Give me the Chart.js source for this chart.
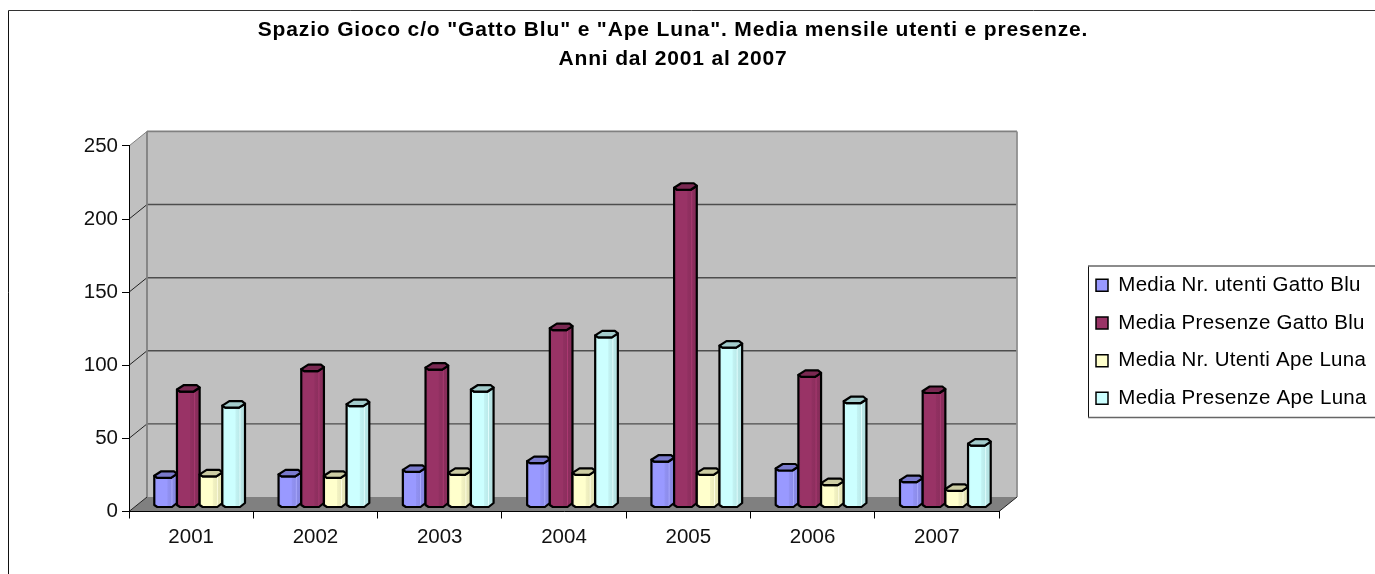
<!DOCTYPE html>
<html>
<head>
<meta charset="utf-8">
<title>Spazio Gioco</title>
<script src="https://cdn.jsdelivr.net/npm/chart.js@4/dist/chart.umd.min.js"></script>
<style>
	html, body { margin: 0; padding: 0; background: #fff; }
	canvas { display: block; }
</style>
</head>
<body>
<canvas id="chart" width="1375" height="574"></canvas>
<script>
var anni = ['2001', '2002', '2003', '2004', '2005', '2006', '2007'];
var utentiGatto = [21, 22, 25, 31, 32, 26, 18];
var presenzeGatto = [80, 94, 95, 122, 218, 90, 79];
var utentiApe = [22, 21, 23, 23, 23, 16, 12];
var presenzeApe = [69, 70, 80, 117, 110, 72, 43];
var nomiSerie = ['Media Nr. utenti Gatto Blu', 'Media Presenze Gatto Blu', 'Media Nr. Utenti Ape Luna', 'Media Presenze Ape Luna'];
var coloriSerie = ['#9999FF', '#993366', '#FFFFCC', '#CCFFFF'];
var titolo = ['Spazio Gioco c/o "Gatto Blu" e "Ape Luna". Media mensile utenti e presenze.', 'Anni dal 2001 al 2007'];

// Depth of the 3D box and of the bars inside it
var DEPTH_X = 18, DEPTH_Y = -14.5;
var BAR_X = 8.5, BAR_Y = -6;
var FONT = '"Liberation Sans", Arial, sans-serif';

function shade(hex, f) {
	var n = parseInt(hex.slice(1), 16);
	var r = Math.min(255, Math.round((n >> 16) * f));
	var g = Math.min(255, Math.round(((n >> 8) & 255) * f));
	var b = Math.min(255, Math.round((n & 255) * f));
	return 'rgb(' + r + ',' + g + ',' + b + ')';
}

function poly(ctx, pts) {
	ctx.beginPath();
	ctx.moveTo(pts[0][0], pts[0][1]);
	for (var i = 1; i < pts.length; i++) ctx.lineTo(pts[i][0], pts[i][1]);
	ctx.closePath();
}

function line(ctx, x1, y1, x2, y2, color, width) {
	ctx.strokeStyle = color;
	ctx.lineWidth = width;
	ctx.beginPath();
	ctx.moveTo(x1, y1);
	ctx.lineTo(x2, y2);
	ctx.stroke();
}

// Chart.js has no letter spacing option, the reference text is a bit stretched
function withSpacing(box, spacing) {
	var draw = box.draw;
	box.draw = function(area) {
		this.ctx.save();
		this.ctx.letterSpacing = spacing;
		draw.call(this, area);
		this.ctx.restore();
	};
	box.spaced = true;
}

// Walls, floor and gridlines, all hung on the library's scales
function drawBox(chart) {
	var ctx = chart.ctx, a = chart.chartArea, yScale = chart.scales.y;
	var l = a.left, r = a.right, t = a.top, b = a.bottom;
	ctx.save();
	ctx.fillStyle = '#C0C0C0';
	poly(ctx, [[l, t], [l + DEPTH_X, t + DEPTH_Y], [r + DEPTH_X, t + DEPTH_Y], [r + DEPTH_X, b + DEPTH_Y], [l + DEPTH_X, b + DEPTH_Y], [l, b]]);
	ctx.fill();
	ctx.fillStyle = '#808080';
	poly(ctx, [[l, b], [l + DEPTH_X, b + DEPTH_Y], [r + DEPTH_X, b + DEPTH_Y], [r, b]]);
	ctx.fill();
	yScale.ticks.forEach(function(tick) {
		var y = yScale.getPixelForValue(tick.value);
		if (tick.value > 0 && tick.value < 250) {
			line(ctx, l + DEPTH_X, y + DEPTH_Y, r + DEPTH_X, y + DEPTH_Y, '#4d4d4d', 1.4);
		}
		line(ctx, l, y, l + DEPTH_X, y + DEPTH_Y, tick.value == 250 ? '#808080' : '#222', 1);
	});
	line(ctx, l + DEPTH_X, t + DEPTH_Y, l + DEPTH_X, b + DEPTH_Y, '#808080', 1.8);
	line(ctx, l + DEPTH_X, t + DEPTH_Y, r + DEPTH_X, t + DEPTH_Y, '#808080', 1.8);
	line(ctx, r + DEPTH_X, t + DEPTH_Y, r + DEPTH_X, b + DEPTH_Y, '#909090', 1.8);
	line(ctx, r, b, r + DEPTH_X, b + DEPTH_Y, '#222', 1);
	ctx.restore();
}

function drawCylinder(ctx, bar, color) {
	var x = bar.x + BAR_X, yT = bar.y + BAR_Y, yB = bar.base + BAR_Y;
	var L = x - bar.width / 2, R = x + bar.width / 2;
	var body = [[L, yT + 1], [L + 3, yT + 3], [R - 6, yT + 3], [R, yT - 1], [R, yB - 2], [R - 5, yB + 2], [L + 3, yB + 2], [L, yB]];
	var grad = ctx.createLinearGradient(L, 0, R, 0);
	grad.addColorStop(0, shade(color, 0.96));
	grad.addColorStop(0.12, color);
	grad.addColorStop(0.56, color);
	grad.addColorStop(0.6, shade(color, 0.95));
	grad.addColorStop(0.74, shade(color, 0.92));
	grad.addColorStop(0.78, shade(color, 1.12));
	grad.addColorStop(0.82, shade(color, 0.9));
	grad.addColorStop(1, shade(color, 0.88));
	ctx.lineJoin = 'round';
	ctx.lineWidth = 2.2;
	ctx.strokeStyle = '#000';
	poly(ctx, body);
	ctx.fillStyle = grad;
	ctx.fill();
	ctx.stroke();
	poly(ctx, [[L, yT + 1], [L + 3, yT + 3], [R - 6, yT + 3], [R, yT - 1], [R - 3, yT - 3.5], [L + 7, yT - 3.5]]);
	ctx.fillStyle = shade(color, 0.8);
	ctx.fill();
	ctx.stroke();
}

var plugin3d = {
	id: 'box3d',
	beforeDraw: function(chart) {
		var ctx = chart.ctx;
		ctx.save();
		ctx.fillStyle = '#fff';
		ctx.fillRect(0, 0, chart.width, chart.height);
		line(ctx, 8.5, chart.height, 8.5, 10.5, '#111', 1);
		line(ctx, 8.5, 10.5, chart.width, 10.5, '#333', 1);
		ctx.restore();
		drawBox(chart);
	},
	// the bars get drawn by us, from the elements the bar controller has laid out
	beforeDatasetsDraw: function(chart) {
		var ctx = chart.ctx;
		ctx.save();
		for (var c = 0; c < anni.length; c++) {
			for (var i = 0; i < chart.data.datasets.length; i++) {
				drawCylinder(ctx, chart.getDatasetMeta(i).data[c], chart.data.datasets[i].backgroundColor);
			}
		}
		ctx.restore();
		return false;
	},
	afterLayout: function(chart) {
		// title is centred on x=673 in the reference
		chart.titleBlock.left = 0;
		chart.titleBlock.right = 1346;
		if (!chart.titleBlock.spaced) withSpacing(chart.titleBlock, '0.85px');
		// legend sits in the free space on the right
		var lg = chart.legend;
		lg.left = 1096 - lg.options.labels.padding;
		lg.right = 1375;
		lg.top = 285 - 10 - lg.options.labels.padding;
		lg.bottom = 440;
		if (!lg.spaced) withSpacing(lg, '0.3px');
	},
	afterDraw: function(chart) {
		var ctx = chart.ctx;
		ctx.save();
		line(ctx, 1088.5, 418, 1088.5, 266, '#111', 1);
		line(ctx, 1088, 266, 1375, 266, '#666', 1.6);
		line(ctx, 1088, 417.5, 1375, 417.5, '#666', 1.6);
		ctx.restore();
	}
};

new Chart(document.getElementById('chart'), {
	type: 'bar',
	plugins: [plugin3d],
	data: {
		labels: anni,
		datasets: [
			{ label: nomiSerie[0], data: utentiGatto, backgroundColor: coloriSerie[0], borderColor: '#000', borderWidth: 1.5 },
			{ label: nomiSerie[1], data: presenzeGatto, backgroundColor: coloriSerie[1], borderColor: '#000', borderWidth: 1.5 },
			{ label: nomiSerie[2], data: utentiApe, backgroundColor: coloriSerie[2], borderColor: '#000', borderWidth: 1.5 },
			{ label: nomiSerie[3], data: presenzeApe, backgroundColor: coloriSerie[3], borderColor: '#000', borderWidth: 1.5 }
		]
	},
	options: {
		responsive: false,
		animation: false,
		layout: { padding: { left: 0, right: 376, top: 0, bottom: 0 } },
		datasets: { bar: { categoryPercentage: 0.73, barPercentage: 1 } },
		scales: {
			x: {
				grid: { offset: true, drawOnChartArea: false, drawTicks: true, tickLength: 7, color: '#000' },
				border: { color: '#000', width: 1 },
				ticks: { color: '#111', font: { family: FONT, size: 20.5 }, padding: 7, maxRotation: 0 },
				afterFit: function(scale) { scale.height = 62.5; }
			},
			y: {
				min: 0,
				max: 250,
				grid: { drawOnChartArea: false, drawTicks: true, tickLength: 7, color: '#000' },
				border: { color: '#000', width: 1 },
				ticks: { stepSize: 50, color: '#111', font: { family: FONT, size: 20.5 }, padding: 4 },
				afterFit: function(scale) { scale.width = 129; }
			}
		},
		plugins: {
			title: {
				display: true,
				text: titolo,
				color: '#000',
				font: { family: FONT, size: 21, weight: 'bold', lineHeight: 1.38 },
				padding: { top: 15.5, bottom: 72.5 }
			},
			legend: {
				position: 'chartArea',
				align: 'start',
				labels: { color: '#000', boxWidth: 12, boxHeight: 12, padding: 17.2, font: { family: FONT, size: 20.5 } }
			},
			tooltip: { enabled: false }
		}
	}
});
</script>
</body>
</html>
